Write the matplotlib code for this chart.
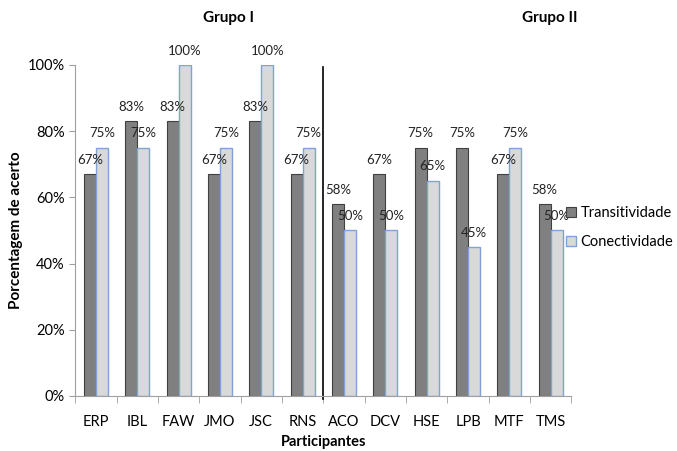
import matplotlib.pyplot as plt
import numpy as np

participantes = ["ERP", "IBL", "FAW", "JMO", "JSC", "RNS",
                 "ACO", "DCV", "HSE", "LPB", "MTF", "TMS"]
transitividade = [67, 83, 83, 67, 83, 67, 58, 67, 75, 75, 67, 58]
conectividade = [75, 75, 100, 75, 100, 75, 50, 50, 65, 45, 75, 50]

plt.rcParams['font.family'] = ['Lato', 'DejaVu Sans']

fig = plt.figure(figsize=(6.77, 4.51), dpi=100)
ax = fig.add_axes([0.111, 0.122, 0.733, 0.734])

x = np.arange(len(participantes))
w = 0.29
b1 = ax.bar(x - w / 2, transitividade, w, color="#808080", edgecolor="#404040",
            linewidth=0.8, label="Transitividade")
b2 = ax.bar(x + w / 2, conectividade, w, color="#d9d9d9", edgecolor="#7fa3d3",
            linewidth=1.0, label="Conectividade")

# value labels above each bar
for bars, vals in ((b1, transitividade), (b2, conectividade)):
    for rect, v in zip(bars, vals):
        ax.annotate(f"{v}%", (rect.get_x() + rect.get_width() / 2, v),
                    xytext=(0, 6), textcoords="offset points",
                    ha="center", va="bottom", fontsize=9.5, color="#222222")

ax.set_xlim(-0.5, len(participantes) - 0.5)
ax.set_ylim(0, 100)
ax.set_yticks(range(0, 101, 20))
ax.set_yticklabels([f"{t}%" for t in range(0, 101, 20)], fontsize=10.5)
ax.set_xticks(x)
ax.set_xticklabels(participantes, fontsize=10.5)
ax.tick_params(axis="x", length=0, pad=14)
ax.set_xticks(np.arange(-0.5, len(participantes)), minor=True)
ax.tick_params(axis="x", which="minor", length=5, color="#a0a0a0")
ax.tick_params(axis="y", length=4, color="#a0a0a0")

for s in ("top", "right"):
    ax.spines[s].set_visible(False)
for s in ("left", "bottom"):
    ax.spines[s].set_color("#a0a0a0")

ax.set_ylabel("Porcentagem de acerto", fontsize=11, fontweight="bold", labelpad=3)
ax.set_xlabel("Participantes", fontsize=10.5, fontweight="bold", labelpad=4)

# separator between the two groups
ax.axvline(5.5, ymin=-0.01, ymax=0.995, color="black", linewidth=1.2, clip_on=False)

fig.text(0.338, 0.96, "Grupo I", ha="center", va="center", fontsize=11, fontweight="bold")
fig.text(0.812, 0.96, "Grupo II", ha="center", va="center", fontsize=11, fontweight="bold")

fig.legend(handles=[b1, b2], loc="center left", bbox_to_anchor=(0.836, 0.495),
           frameon=False, fontsize=10.5, handlelength=0.7, handleheight=0.7,
           handletextpad=0.3, labelspacing=1.0, borderaxespad=0, borderpad=0)

fig.savefig("out.png", dpi=100)
